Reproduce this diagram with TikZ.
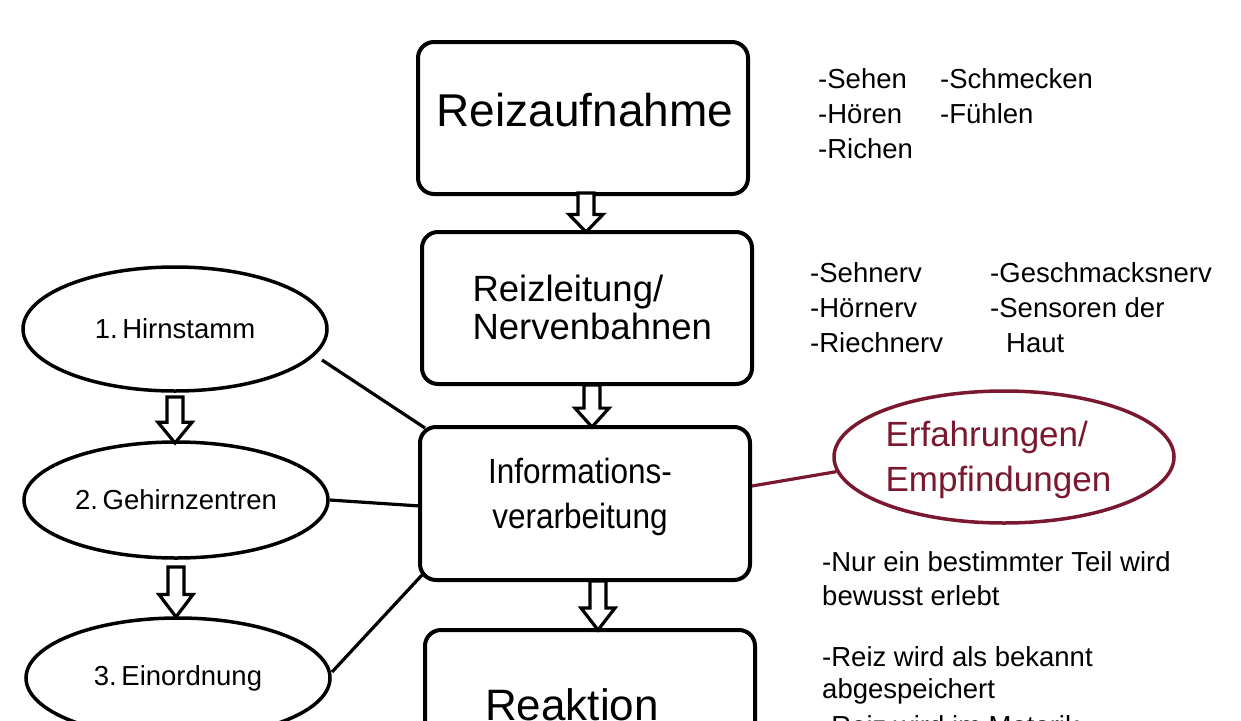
\documentclass[tikz,border=0pt]{standalone}
\usepackage{fontspec}
\usetikzlibrary{shapes.geometric}
\setmainfont{Liberation Sans}
\definecolor{dred}{HTML}{7A1830}
\begin{document}
\begin{tikzpicture}[x=1pt,y=-1pt,
 box/.style={draw,line width=4pt,rounded corners=16pt,inner sep=0pt},
 ell/.style={draw,line width=3.5pt,ellipse,inner sep=0pt},
 lst/.style={anchor=west,font=\fontsize{27.5}{30}\selectfont,inner sep=0pt},
 con/.style={line width=3.2pt},
 pics/barrow/.style={code={\draw[line width=3.2pt,fill=white,line join=miter] (-8,0)--(8,0)--(8,#1*0.55)--(17,#1*0.55)--(0,#1)--(-17,#1*0.55)--(-8,#1*0.55)--cycle;}}]
\useasboundingbox (0,0) rectangle (1241,720);
\clip (0,0) rectangle (1241,720);
\draw[box] (418,42) rectangle (748,194);
\node[font=\fontsize{46}{50}\selectfont] (b1) at (585,110) {Reizaufnahme};
\draw[box] (422,232) rectangle (752,384);
\node[font=\fontsize{36.5}{38}\selectfont,align=left,anchor=west] (b2) at (469,307) {Reizleitung/\\Nervenbahnen};
\draw[box] (420,427) rectangle (750,580);
\node[font=\fontsize{35}{45}\selectfont,align=center,xscale=0.9] (b3) at (580,497) {Informations-\\verarbeitung};
\draw[box] (425,630) rectangle (755,790);
\node[font=\fontsize{44}{48}\selectfont] (b4) at (572,705) {Reaktion};
\pic at (586,193) {barrow=39};
\pic at (592,385) {barrow=42};
\pic at (598,581) {barrow=49};
\pic at (175,397) {barrow=46};
\pic at (176,567) {barrow=50};
\node[ell,minimum width=304pt,minimum height=124pt,font=\fontsize{27.5}{30}\selectfont] (e1) at (175,329) {1.\,Hirnstamm};
\node[ell,minimum width=304pt,minimum height=116pt,font=\fontsize{27.5}{30}\selectfont] (e2) at (176,500) {2.\,Gehirnzentren};
\node[ell,minimum width=304pt,minimum height=120pt,font=\fontsize{27.5}{30}\selectfont] (e3) at (178,678) {3.\,Einordnung};
\coordinate (c1) at (425,428); \coordinate (c2) at (420,506); \coordinate (c3) at (422,575);
\coordinate (d1) at (322,360); \coordinate (d3) at (332,672);
\draw[con] (d1) -- (c1);
\draw[con] (e2.east) -- (c2);
\draw[con] (d3) -- (c3);
\node[draw=dred,line width=3.5pt,ellipse,minimum width=340pt,minimum height=132pt] (er) at (1004,457) {};
\node[text=dred,font=\fontsize{35}{45}\selectfont,align=left,anchor=west] (et) at (882,460) {Erfahrungen/\\Empfindungen};
\coordinate (c4) at (752,486);
\draw[line width=3.2pt,dred] (c4) -- (er.185);
\node[lst] (s1) at (818,79) {-Sehen};
\node[lst] (s2) at (818,114) {-Hören};
\node[lst] (s3) at (818,149) {-Richen};
\node[lst] (s4) at (940,79) {-Schmecken};
\node[lst] (s5) at (940,114) {-Fühlen};
\node[lst] (n1) at (810,273) {-Sehnerv};
\node[lst] (n2) at (810,308) {-Hörnerv};
\node[lst] (n3) at (810,343) {-Riechnerv};
\node[lst] (n4) at (990,273) {-Geschmacksnerv};
\node[lst] (n5) at (990,308) {-Sensoren der};
\node[lst] (n6) at (1006,343) {Haut};
\node[lst] (t1) at (822,562) {-Nur ein bestimmter Teil wird};
\node[lst] (t2) at (822,596) {bewusst erlebt};
\node[lst] (t3) at (822,657) {-Reiz wird als bekannt};
\node[lst] (t4) at (822,691) {abgespeichert};
\node[lst] (t5) at (822,726) {-Reiz wird im Motorik};
\end{tikzpicture}
\end{document}
